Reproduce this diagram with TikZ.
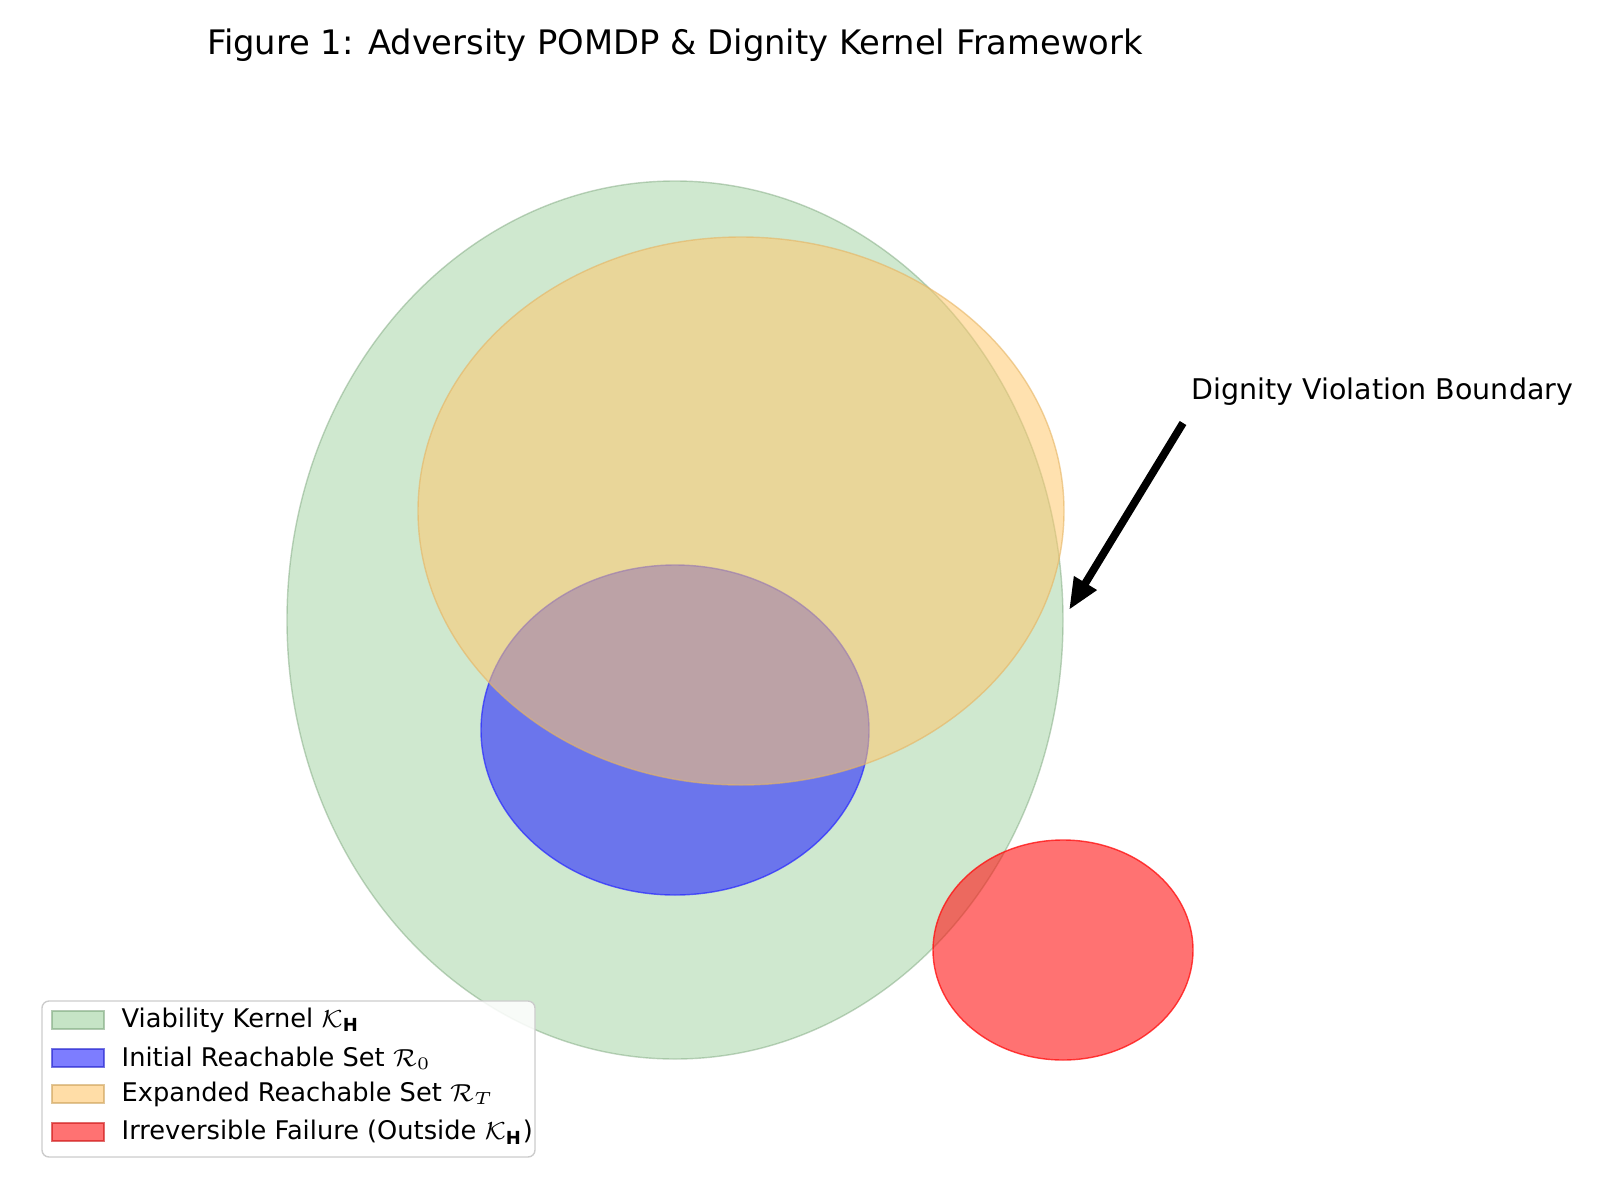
\documentclass[tikz,border=0pt]{standalone}
\usepackage{fontspec}
\setmainfont{DejaVu Sans}
\usepackage{amsmath,amssymb}
\usetikzlibrary{arrows.meta}

\begin{document}
\begin{tikzpicture}[x=0.01cm,y=-0.01cm,
    % Styles for the sets
    keypatch/.style={fill=#1, draw=#1!80!black, opacity=0.6, minimum width=0.52cm, minimum height=0.18cm, inner sep=0pt},
    keylabel/.style={font=\fontsize{7.3}{9}\selectfont, anchor=west, inner sep=0pt},
    titlelabel/.style={font=\fontsize{9.6}{11}\selectfont}
]
\definecolor{kgreen}{RGB}{160,210,160}
\definecolor{kblue}{RGB}{40,40,255}
\definecolor{korange}{RGB}{255,200,110}
\definecolor{kred}{RGB}{255,20,20}

\useasboundingbox (0,0) rectangle (1600,1200);

% Title
\node [titlelabel] (title) at (675,45) {Figure 1: Adversity POMDP \& Dignity Kernel Framework};

% Sets
\fill [kgreen, opacity=0.5] (675,620) ellipse [x radius=388, y radius=439];
\draw [kgreen!80!black, opacity=0.5] (675,620) ellipse [x radius=388, y radius=439];
\fill [kblue, opacity=0.6] (675,730) ellipse [x radius=194, y radius=165];
\draw [kblue, opacity=0.7] (675,730) ellipse [x radius=194, y radius=165];
\fill [korange, opacity=0.55] (741,511) ellipse [x radius=323, y radius=274];
\draw [korange!90!black, opacity=0.6] (741,511) ellipse [x radius=323, y radius=274];
\fill [kred, opacity=0.6] (1063,950) ellipse [x radius=130, y radius=110];
\draw [kred, opacity=0.8] (1063,950) ellipse [x radius=130, y radius=110];

% Annotation
\node [keylabel, font=\fontsize{8.1}{10}\selectfont] (bound) at (1191,392) {Dignity Violation Boundary};
\coordinate (tail) at (1183,423);
\coordinate (tip) at (1069,610);
\draw [line width=2.2pt, -{Stealth[length=9pt,width=7pt,inset=0pt]}] (tail) -- (tip);

% Legend
\draw [black!20, fill=white, fill opacity=0.85, rounded corners=2pt] (42,1001) rectangle (535,1157);
\foreach \y/\c/\t [count=\i] in {
    1020/kgreen/{Viability Kernel $\mathcal{K}_{\mathbf{H}}$},
    1058/kblue/{Initial Reachable Set $\mathcal{R}_0$},
    1094/korange/{Expanded Reachable Set $\mathcal{R}_T$},
    1132/kred/{Irreversible Failure (Outside $\mathcal{K}_{\mathbf{H}}$)}
} {
    \node [keypatch=\c] (patch\i) at (78,\y) {};
    \node [keylabel] (key\i) at (121,\y) {\t};
}
\end{tikzpicture}
\end{document}
